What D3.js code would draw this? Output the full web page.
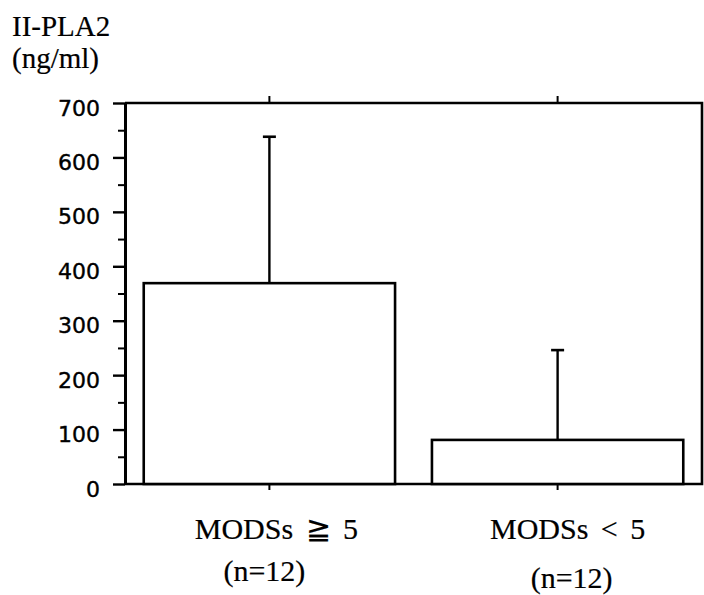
<!DOCTYPE html>
<html>
<head>
<meta charset="utf-8">
<script src="https://cdn.jsdelivr.net/npm/d3@7"></script>
<style>
  html, body { margin: 0; padding: 0; background: #fff; }
  svg { display: block; }
</style>
</head>
<body>
<svg id="chart" width="704" height="595"></svg>
<script>
// ---- data ----
const categories = ["MODSs ≧ 5", "MODSs < 5"];
const sampleLabels = ["(n=12)", "(n=12)"];
const means = [369, 81];
const errorTops = [638, 246];
const yTicks = [0, 100, 200, 300, 400, 500, 600, 700];
const yMinorTicks = [50, 150, 250, 350, 450, 550, 650];
const titleLines = ["II-PLA2", "(ng/ml)"];

// ---- layout ----
const svg = d3.select("#chart");
const L = 125, R = 702, T = 103, B = 484;
const serif = "'Liberation Serif', 'Times New Roman', serif";
const sans = "'DejaVu Sans', sans-serif";

const x = d3.scaleBand().domain(categories).range([L, R])
  .paddingInner(0.128).paddingOuter(0.065);
const y = d3.scaleLinear().domain([0, 700]).range([B, T]);

// frame (top, right, bottom)
svg.append("path")
  .attr("d", `M${L},${T}H${R}V${B}H${L}`)
  .attr("fill", "none").attr("stroke", "#000").attr("stroke-width", 2.6);

// bars
svg.selectAll("rect.bar").data(categories).join("rect")
  .attr("class", "bar")
  .attr("x", d => x(d))
  .attr("y", (d, i) => y(means[i]))
  .attr("width", x.bandwidth())
  .attr("height", (d, i) => y(0) - y(means[i]))
  .attr("fill", "#fff").attr("stroke", "#000").attr("stroke-width", 2.6);

// error bars
const cx = d => x(d) + x.bandwidth() / 2;
svg.selectAll("line.err").data(categories).join("line")
  .attr("class", "err")
  .attr("x1", cx).attr("x2", cx)
  .attr("y1", (d, i) => y(means[i]))
  .attr("y2", (d, i) => y(errorTops[i]))
  .attr("stroke", "#000").attr("stroke-width", 2.4);
svg.selectAll("line.cap").data(categories).join("line")
  .attr("class", "cap")
  .attr("x1", d => cx(d) - 6.5).attr("x2", d => cx(d) + 6.5)
  .attr("y1", (d, i) => y(errorTops[i]))
  .attr("y2", (d, i) => y(errorTops[i]))
  .attr("stroke", "#000").attr("stroke-width", 2.6);

// x ticks (below bottom axis, above top frame)
svg.selectAll("line.xtb").data(categories).join("line")
  .attr("x1", cx).attr("x2", cx).attr("y1", B).attr("y2", B + 6)
  .attr("stroke", "#000").attr("stroke-width", 2);
svg.selectAll("line.xtt").data(categories).join("line")
  .attr("x1", cx).attr("x2", cx).attr("y1", T).attr("y2", T - 7)
  .attr("stroke", "#000").attr("stroke-width", 2);

// y axis minor ticks
const gMinor = svg.append("g").attr("transform", `translate(${L},0)`)
  .call(d3.axisLeft(y).tickValues(yMinorTicks).tickSize(7).tickFormat(""));
gMinor.select(".domain").remove();
gMinor.selectAll(".tick line").attr("stroke", "#000").attr("stroke-width", 2);

// y axis major
const gY = svg.append("g").attr("transform", `translate(${L},0)`)
  .call(d3.axisLeft(y).tickValues(yTicks).tickSize(12).tickPadding(13).tickSizeOuter(0));
gY.select(".domain").attr("stroke", "#000").attr("stroke-width", 3);
gY.selectAll(".tick line").attr("stroke", "#000").attr("stroke-width", 2.4);
gY.selectAll(".tick text")
  .attr("font-family", sans).attr("font-size", 22).attr("fill", "#000")
  .attr("stroke", "#000").attr("stroke-width", 0.4)
  .attr("dy", "0.55em");

// title
svg.append("text").attr("x", 12).attr("y", 36)
  .attr("font-family", serif).attr("font-size", 29).attr("fill", "#000")
  .attr("stroke", "#000").attr("stroke-width", 0.2)
  .text(titleLines[0]);
svg.append("text").attr("x", 12).attr("y", 68)
  .attr("font-family", serif).attr("font-size", 29).attr("fill", "#000")
  .attr("stroke", "#000").attr("stroke-width", 0.2)
  .text(titleLines[1]);

// category labels
const catDx = [7, 10];
const nDx = [-5, 14];
const nY = [581, 588];
svg.selectAll("text.cat").data(categories).join("text")
  .attr("class", "cat")
  .attr("x", (d, i) => cx(d) + catDx[i]).attr("y", 539)
  .attr("text-anchor", "middle")
  .attr("font-family", serif).attr("font-size", 30).attr("fill", "#000")
  .attr("stroke", "#000").attr("stroke-width", 0.2)
  .attr("word-spacing", 5)
  .text(d => d);
svg.selectAll("text.n").data(categories).join("text")
  .attr("class", "n")
  .attr("x", (d, i) => cx(d) + nDx[i]).attr("y", (d, i) => nY[i])
  .attr("text-anchor", "middle")
  .attr("font-family", serif).attr("font-size", 30).attr("fill", "#000")
  .attr("stroke", "#000").attr("stroke-width", 0.2)
  .text((d, i) => sampleLabels[i]);
</script>
</body>
</html>
